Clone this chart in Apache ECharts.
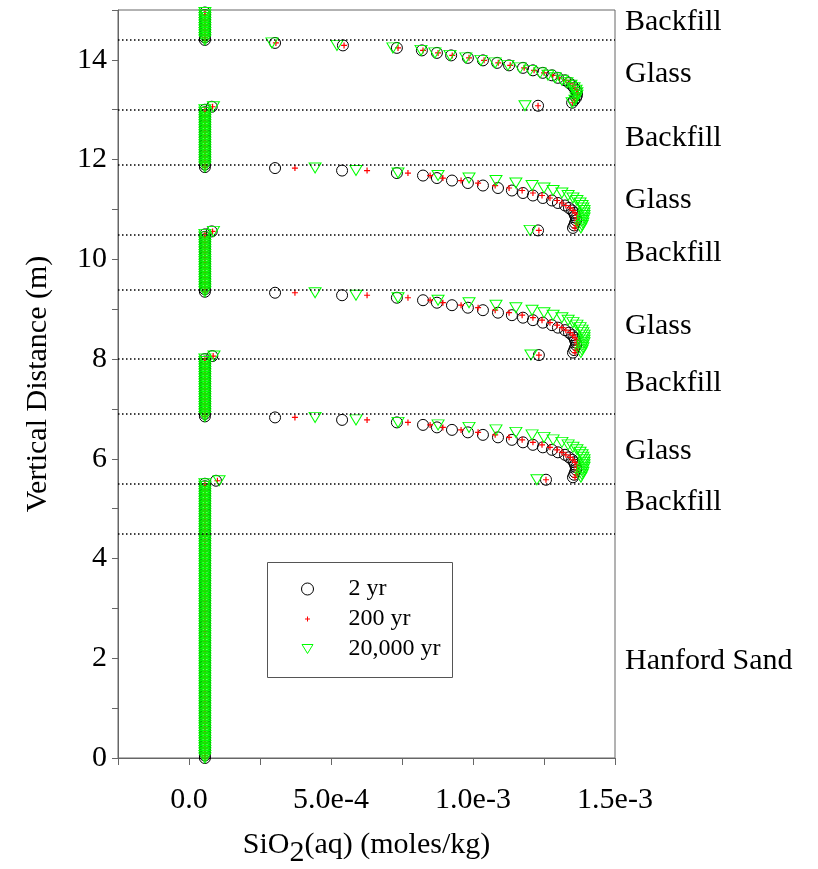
<!DOCTYPE html>
<html>
<head>
<meta charset="utf-8">
<script src="https://cdn.jsdelivr.net/npm/echarts@6/dist/echarts.min.js"></script>
<style>
  html, body { margin: 0; padding: 0; background: #fff; }
  #chart { width: 818px; height: 869px; }
</style>
</head>
<body>
<div id="chart"></div>
<script>
// axis setup
const xMin = -2.5e-4, xMax = 1.5e-3, xStep = 2.5e-4;
const xTickLabels = ['', '0.0', '', '5.0e-4', '', '1.0e-3', '', '1.5e-3'];
const yTickLabels = ['0', '', '2', '', '4', '', '6', '', '8', '', '10', '', '12', '', '14', ''];

// layer boundaries (dotted) and names on the right
const layerLines = [14.4, 13.0, 11.9, 10.5, 9.4, 8.0, 6.9, 5.5, 4.5];
const layerNames = ['Backfill', 'Glass', 'Backfill', 'Glass', 'Backfill', 'Glass', 'Backfill', 'Glass', 'Backfill', 'Hanford Sand'];
const layerNameY = [14.75, 13.71, 12.44, 11.18, 10.13, 8.66, 7.52, 6.16, 5.13, 1.94];

const seriesNames = ['2 yr', '200 yr', '20,000 yr'];

// backfill / sand nodes all sit at the same concentration
const columnX = 5.6e-5;
const bfY1 = [14.95, 14.9, 14.85, 14.8, 14.75, 14.7, 14.65, 14.6, 14.55, 14.5, 14.45, 14.4];
const bfY2 = [13.0, 12.95, 12.9, 12.85, 12.8, 12.75, 12.7, 12.65, 12.6, 12.55, 12.5, 12.45, 12.4, 12.35, 12.3, 12.25, 12.2, 12.15, 12.1, 12.05, 12.0, 11.95, 11.9, 11.85];
const bfY3 = [10.5, 10.45, 10.4, 10.35, 10.3, 10.25, 10.2, 10.15, 10.1, 10.05, 10.0, 9.95, 9.9, 9.85, 9.8, 9.75, 9.7, 9.65, 9.6, 9.55, 9.5, 9.45, 9.4, 9.35];
const bfY4 = [8.0, 7.95, 7.9, 7.85, 7.8, 7.75, 7.7, 7.65, 7.6, 7.55, 7.5, 7.45, 7.4, 7.35, 7.3, 7.25, 7.2, 7.15, 7.1, 7.05, 7.0, 6.95, 6.9, 6.85];
const sandY = [5.5, 5.45, 5.4, 5.35, 5.3, 5.25, 5.2, 5.15, 5.1, 5.05,
  5.0, 4.95, 4.9, 4.85, 4.8, 4.75, 4.7, 4.65, 4.6, 4.55,
  4.5, 4.45, 4.4, 4.35, 4.3, 4.25, 4.2, 4.15, 4.1, 4.05,
  4.0, 3.95, 3.9, 3.85, 3.8, 3.75, 3.7, 3.65, 3.6, 3.55,
  3.5, 3.45, 3.4, 3.35, 3.3, 3.25, 3.2, 3.15, 3.1, 3.05,
  3.0, 2.95, 2.9, 2.85, 2.8, 2.75, 2.7, 2.65, 2.6, 2.55,
  2.5, 2.45, 2.4, 2.35, 2.3, 2.25, 2.2, 2.15, 2.1, 2.05,
  2.0, 1.95, 1.9, 1.85, 1.8, 1.75, 1.7, 1.65, 1.6, 1.55,
  1.5, 1.45, 1.4, 1.35, 1.3, 1.25, 1.2, 1.15, 1.1, 1.05,
  1.0, 0.95, 0.9, 0.85, 0.8, 0.75, 0.7, 0.65, 0.6, 0.55,
  0.5, 0.45, 0.4, 0.35, 0.3, 0.25, 0.2, 0.15, 0.1, 0.05, 0.0];

// first backfill node below each glass layer (slightly raised)
const kinkY = [13.06, 10.56, 8.06, 5.56];
const kink2yr = [8.0e-5, 8.0e-5, 8.2e-5, 9.5e-5];
const kink200yr = [8.3e-5, 8.3e-5, 8.5e-5, 1.0e-4];
const kink20kyr = [8.6e-5, 8.6e-5, 8.8e-5, 1.06e-4];

// glass nodes
const glassY1 = [14.34, 14.29, 14.24, 14.19, 14.14, 14.09, 14.04, 13.99, 13.94, 13.89, 13.84, 13.79, 13.74, 13.69, 13.64, 13.59, 13.54, 13.49, 13.44, 13.39, 13.34, 13.29, 13.24, 13.19, 13.14];
const glassY2 = [11.83, 11.78, 11.73, 11.68, 11.63, 11.58, 11.53, 11.48, 11.43, 11.38, 11.33, 11.28, 11.23, 11.18, 11.13, 11.08, 11.03, 10.98, 10.93, 10.88, 10.83, 10.78, 10.73, 10.68, 10.63];
const glassY3 = [9.33, 9.28, 9.23, 9.18, 9.13, 9.08, 9.03, 8.98, 8.93, 8.88, 8.83, 8.78, 8.73, 8.68, 8.63, 8.58, 8.53, 8.48, 8.43, 8.38, 8.33, 8.28, 8.23, 8.18, 8.13];
const glassY4 = [6.83, 6.78, 6.73, 6.68, 6.63, 6.58, 6.53, 6.48, 6.43, 6.38, 6.33, 6.28, 6.23, 6.18, 6.13, 6.08, 6.03, 5.98, 5.93, 5.88, 5.83, 5.78, 5.73, 5.68, 5.63];

// top glass layer profiles
const topGlass2yr = [3.03e-4, 5.42e-4, 7.32e-4, 8.20e-4, 8.73e-4, 9.23e-4, 9.82e-4, 1.035e-3, 1.085e-3, 1.127e-3, 1.176e-3, 1.211e-3, 1.246e-3, 1.278e-3, 1.299e-3, 1.324e-3, 1.338e-3, 1.349e-3, 1.356e-3, 1.363e-3, 1.366e-3, 1.366e-3, 1.363e-3, 1.356e-3, 1.349e-3];
const topGlass200yr = [3.06e-4, 5.46e-4, 7.36e-4, 8.24e-4, 8.77e-4, 9.27e-4, 9.86e-4, 1.039e-3, 1.089e-3, 1.131e-3, 1.180e-3, 1.215e-3, 1.250e-3, 1.281e-3, 1.302e-3, 1.327e-3, 1.341e-3, 1.352e-3, 1.359e-3, 1.365e-3, 1.368e-3, 1.368e-3, 1.365e-3, 1.358e-3, 1.351e-3];
const topGlass20kyr = [2.92e-4, 5.21e-4, 7.18e-4, 8.17e-4, 8.66e-4, 9.19e-4, 9.75e-4, 1.028e-3, 1.078e-3, 1.123e-3, 1.166e-3, 1.201e-3, 1.236e-3, 1.264e-3, 1.289e-3, 1.313e-3, 1.331e-3, 1.345e-3, 1.356e-3, 1.363e-3, 1.366e-3, 1.366e-3, 1.363e-3, 1.359e-3, 1.349e-3];

// lower three glass layers (same shape)
const lowGlass2yr = [3.03e-4, 5.39e-4, 7.32e-4, 8.24e-4, 8.73e-4, 9.26e-4, 9.82e-4, 1.035e-3, 1.088e-3, 1.137e-3, 1.176e-3, 1.211e-3, 1.246e-3, 1.278e-3, 1.299e-3, 1.324e-3, 1.338e-3, 1.349e-3, 1.356e-3, 1.359e-3, 1.363e-3, 1.363e-3, 1.359e-3, 1.356e-3, 1.352e-3];
const lowGlass200yr = [3.73e-4, 6.27e-4, 7.71e-4, 8.49e-4, 8.94e-4, 9.58e-4, 1.018e-3, 1.078e-3, 1.127e-3, 1.173e-3, 1.211e-3, 1.243e-3, 1.271e-3, 1.296e-3, 1.313e-3, 1.327e-3, 1.342e-3, 1.352e-3, 1.359e-3, 1.366e-3, 1.366e-3, 1.366e-3, 1.366e-3, 1.363e-3, 1.359e-3];
const lowGlass20kyr = [4.44e-4, 5.88e-4, 7.36e-4, 8.77e-4, 9.86e-4, 1.081e-3, 1.151e-3, 1.208e-3, 1.250e-3, 1.282e-3, 1.313e-3, 1.335e-3, 1.352e-3, 1.366e-3, 1.377e-3, 1.384e-3, 1.387e-3, 1.391e-3, 1.391e-3, 1.391e-3, 1.391e-3, 1.387e-3, 1.387e-3, 1.384e-3, 1.380e-3];

// last glass node at each glass/backfill contact
const edgeY = [13.08, 10.58, 8.08, 5.58];
const edge2yr = [1.229e-3, 1.229e-3, 1.232e-3, 1.257e-3];
const edge200yr = [1.229e-3, 1.232e-3, 1.232e-3, 1.257e-3];
const edge20kyr = [1.183e-3, 1.201e-3, 1.204e-3, 1.225e-3];

const serif = "'Liberation Serif', 'Times New Roman', serif";
const axisGray = '#666';
const plusPath = 'path://M3,0 L3,6 M0,3 L6,3';
const triPath = 'path://M0,0 L12,0 L6,10 Z';

function seriesPoints(kinkX, topGlass, lowGlass, edgeX) {
  const pts = [];
  [bfY1, bfY2, bfY3, bfY4, sandY].forEach(col => col.forEach(y => pts.push([columnX, y])));
  kinkY.forEach((y, i) => pts.push([kinkX[i], y]));
  glassY1.forEach((y, i) => pts.push([topGlass[i], y]));
  [glassY2, glassY3, glassY4].forEach(ys => ys.forEach((y, i) => pts.push([lowGlass[i], y])));
  edgeY.forEach((y, i) => pts.push([edgeX[i], y]));
  return pts;
}

const chart = echarts.init(document.getElementById('chart'));

const option = {
  animation: false,
  grid: {
    left: 118, right: 203, top: 10, bottom: 111,
    outerBoundsMode: 'none', containLabel: false,
    show: true, borderColor: axisGray, borderWidth: 1
  },
  xAxis: {
    type: 'value', min: xMin, max: xMax, interval: xStep,
    name: 'SiO{sub|2}(aq) (moles/kg)',
    nameLocation: 'middle',
    nameGap: 64,
    nameTextStyle: {
      fontFamily: serif, fontSize: 30, color: '#000', lineHeight: 46,
      rich: { sub: { fontFamily: serif, fontSize: 30, color: '#000', lineHeight: 30, verticalAlign: 'bottom' } }
    },
    axisLine: { show: true, onZero: false, lineStyle: { color: axisGray } },
    axisTick: { show: true, length: 7, lineStyle: { color: axisGray } },
    axisLabel: {
      margin: 27, fontFamily: serif, fontSize: 30, color: '#000',
      formatter: v => xTickLabels[Math.round((v - xMin) / xStep)] || ''
    },
    splitLine: { show: false }
  },
  yAxis: {
    type: 'value', min: 0, max: 15, interval: 1,
    name: 'Vertical Distance (m)',
    nameLocation: 'middle',
    nameGap: 65,
    nameTextStyle: { fontFamily: serif, fontSize: 30, color: '#000' },
    axisLine: { show: true, onZero: false, lineStyle: { color: axisGray } },
    axisTick: { show: true, length: 6, lineStyle: { color: axisGray } },
    axisLabel: {
      margin: 11, fontFamily: serif, fontSize: 30, color: '#000',
      formatter: v => yTickLabels[Math.round(v)] || ''
    },
    splitLine: { show: false }
  },
  legend: {
    orient: 'vertical', left: 301, top: 577, padding: 0,
    itemGap: 6, itemWidth: 12, itemHeight: 12, selectedMode: false,
    textStyle: { fontFamily: serif, fontSize: 24, lineHeight: 24, color: '#000', padding: [0, 0, 0, 30] },
    data: [
      { name: seriesNames[0], icon: 'circle', itemStyle: { color: 'transparent', borderColor: '#000', borderWidth: 1, opacity: 1 } },
      { name: seriesNames[1], icon: 'path://M0,0 M12,12 M3.5,6 L8.5,6 M6,3.5 L6,8.5', itemStyle: { color: 'transparent', borderColor: '#ff0000', borderWidth: 1, opacity: 1 } },
      { name: seriesNames[2], icon: 'path://M0,0 M12,12 M0.5,1.5 L11.5,1.5 L6,10.5 Z', itemStyle: { color: 'transparent', borderColor: '#00ff00', borderWidth: 1, opacity: 1 } }
    ]
  },
  graphic: [{
    type: 'rect', silent: true,
    shape: { x: 267.5, y: 562.5, width: 185, height: 115 },
    style: { fill: 'none', stroke: '#555', lineWidth: 1 }
  }],
  series: [
    {
      name: seriesNames[0], type: 'scatter', silent: true,
      symbol: 'circle', symbolSize: 11,
      itemStyle: { color: 'transparent', borderColor: '#000', borderWidth: 1, opacity: 1 },
      emphasis: { disabled: true },
      data: seriesPoints(kink2yr, topGlass2yr, lowGlass2yr, edge2yr),
      markLine: {
        silent: true, symbol: ['none', 'none'], label: { show: false },
        lineStyle: { color: '#000', type: [1.5, 2.5], width: 1.5, opacity: 1 },
        data: layerLines.map(v => ({ yAxis: v }))
      }
    },
    {
      name: seriesNames[1], type: 'scatter', silent: true,
      symbol: plusPath, symbolSize: 6,
      itemStyle: { color: 'transparent', borderColor: '#ff0000', borderWidth: 1.2, opacity: 1 },
      emphasis: { disabled: true },
      data: seriesPoints(kink200yr, topGlass200yr, lowGlass200yr, edge200yr)
    },
    {
      name: seriesNames[2], type: 'scatter', silent: true,
      symbol: triPath, symbolSize: [12, 10],
      itemStyle: { color: 'transparent', borderColor: '#00ff00', borderWidth: 1, opacity: 1 },
      emphasis: { disabled: true },
      data: seriesPoints(kink20kyr, topGlass20kyr, lowGlass20kyr, edge20kyr)
    },
    {
      name: 'layers', type: 'scatter', silent: true, clip: false,
      symbolSize: 0,
      itemStyle: { opacity: 1 },
      data: layerNames.map((n, i) => [xMax, layerNameY[i], n]),
      label: {
        show: true, position: 'right', distance: 10,
        fontFamily: serif, fontSize: 30, color: '#000', opacity: 1,
        formatter: p => p.value[2]
      }
    }
  ]
};

chart.setOption(option);
</script>
</body>
</html>
